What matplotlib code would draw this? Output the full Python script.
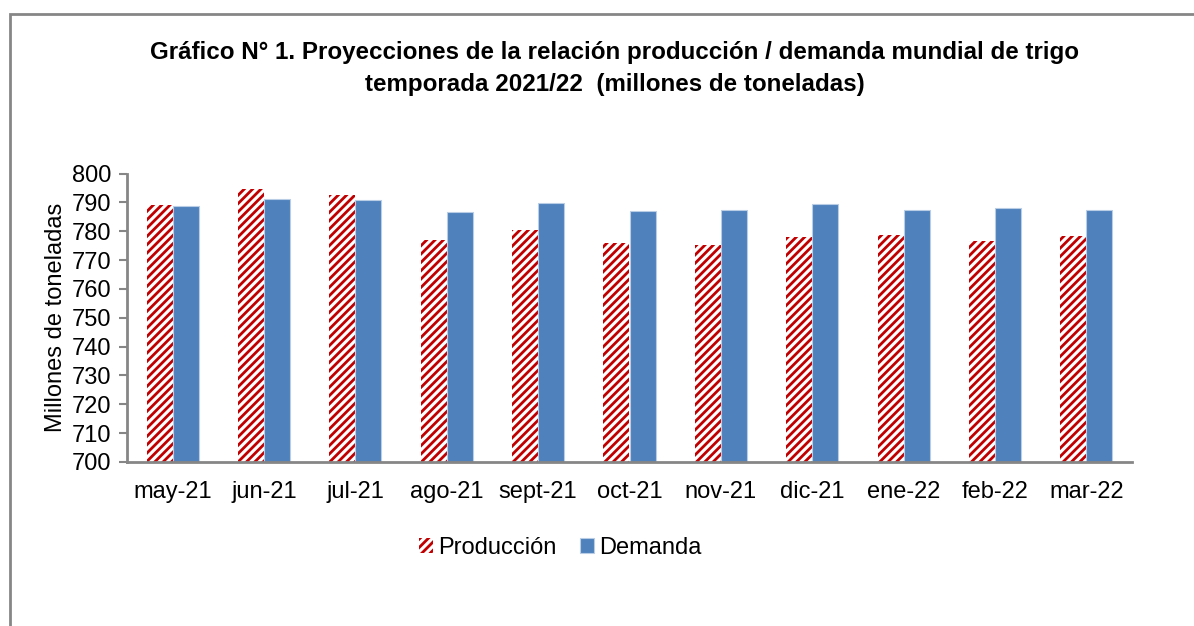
import matplotlib.pyplot as plt
import numpy as np
from matplotlib.patches import Rectangle

plt.rcParams["font.family"] = ["Liberation Sans", "DejaVu Sans"]
plt.rcParams["hatch.linewidth"] = 2.0

# values (millones de toneladas)
months = ["may-21", "jun-21", "jul-21", "ago-21", "sept-21", "oct-21",
          "nov-21", "dic-21", "ene-22", "feb-22", "mar-22"]
produccion = [789.0, 794.5, 792.5, 776.8, 780.3, 775.9, 775.2, 777.9, 778.6, 776.5, 778.5]
demanda = [788.7, 791.1, 790.9, 786.7, 789.7, 787.0, 787.5, 789.5, 787.5, 788.2, 787.3]
yticks = list(range(700, 801, 10))

red = "#C00000"
blue = "#4F81BD"
axis_gray = "#868686"

fig = plt.figure(figsize=(11.94, 6.26), dpi=100)
ax = fig.add_axes([127 / 1194, 1 - 462 / 626, (1132 - 127) / 1194, (462 - 173.5) / 626])

x = np.arange(len(months))
w = 0.285
ax.bar(x - w / 2, produccion, w, color="white", edgecolor=red, hatch="////",
       linewidth=0, label="Producción")
ax.bar(x + w / 2, demanda, w, color=blue, edgecolor="#B9CDE5", linewidth=0.8,
       label="Demanda")

ax.set_xlim(-0.5, len(months) - 0.5)
ax.set_ylim(700, 800)
ax.set_yticks(yticks)
ax.set_xticks(x)
ax.set_xticklabels(months)
ax.tick_params(axis="y", labelsize=17, length=6, width=1.5, color=axis_gray, pad=5)
ax.tick_params(axis="x", labelsize=17, length=0, pad=14)
for side in ["top", "right"]:
    ax.spines[side].set_visible(False)
for side in ["left", "bottom"]:
    ax.spines[side].set_color(axis_gray)
    ax.spines[side].set_linewidth(2)
ax.set_ylabel("Millones de toneladas", fontsize=17, labelpad=4)

fig.text(615 / 1194, 1 - 53 / 626,
         "Gráfico N° 1. Proyecciones de la relación producción / demanda mundial de trigo",
         ha="center", va="center", fontsize=17.4, fontweight="bold")
fig.text(615 / 1194, 1 - 84 / 626, "temporada 2021/22  (millones de toneladas)",
         ha="center", va="center", fontsize=17.4, fontweight="bold")

leg = ax.legend(loc="center", bbox_to_anchor=(560 / 1194, 1 - 548 / 626),
                bbox_transform=fig.transFigure, ncol=2, frameon=False,
                fontsize=17, handlelength=0.6, handleheight=0.6,
                handletextpad=0.2, columnspacing=1.0)

# outer chart frame (left and top edges visible)
fig.add_artist(Rectangle((10 / 1194, -0.1), 1.2, 1 - 14 / 626 + 0.1,
                         transform=fig.transFigure, fill=False,
                         edgecolor=axis_gray, linewidth=2))

fig.savefig("out.png", dpi=100)
